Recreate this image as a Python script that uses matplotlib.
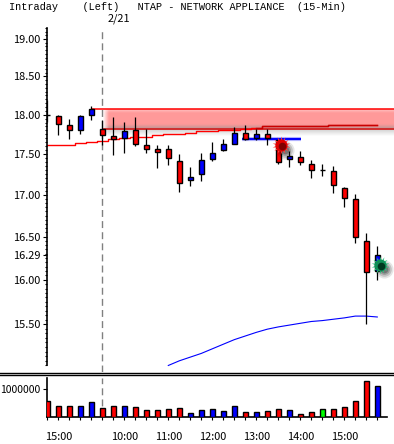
import numpy as np
import matplotlib
matplotlib.use('Agg')
import matplotlib.pyplot as plt
from matplotlib.transforms import offset_copy

W, H = 394, 444
plt.rcParams['font.family'] = ['Liberation Mono', 'DejaVu Sans Mono']
FS = 7.4
NUM_FONT = ['Noto Sans CJK JP', 'DejaVu Sans']
NUM_FS = 7.9

# candles, first one is the cut off bar on the axis
idx = list(range(-1, 30))
opens = [18.00, 17.99, 17.87, 17.81, 18.00, 17.82, 17.73, 17.70, 17.80, 17.62, 17.56, 17.57, 17.41, 17.18, 17.25, 17.44,
         17.55, 17.63, 17.77, 17.70, 17.75, 17.68, 17.44, 17.47, 17.38, 17.30, 17.29, 17.08, 16.95, 16.45, 16.10]
closes = [18.00, 17.88, 17.81, 17.99, 18.07, 17.74, 17.69, 17.79, 17.63, 17.57, 17.53, 17.45, 17.15, 17.22, 17.43, 17.52,
          17.63, 17.77, 17.69, 17.75, 17.70, 17.40, 17.48, 17.40, 17.30, 17.30, 17.12, 16.96, 16.50, 16.09, 16.29]
highs = [18.19, 18.00, 17.94, 18.00, 18.11, 17.93, 17.97, 17.91, 17.97, 17.82, 17.62, 17.61, 17.50, 17.34, 17.52, 17.65,
         17.69, 17.84, 17.87, 17.82, 17.82, 17.68, 17.54, 17.54, 17.43, 17.38, 17.35, 17.09, 17.01, 16.54, 16.39]
lows = [17.91, 17.74, 17.69, 17.76, 17.93, 17.61, 17.49, 17.52, 17.60, 17.52, 17.33, 17.36, 17.04, 17.11, 17.17, 17.42,
        17.54, 17.63, 17.68, 17.68, 17.61, 17.38, 17.34, 17.37, 17.20, 17.23, 17.02, 16.85, 16.43, 15.50, 16.00]
candle_colors = ['r', 'r', 'r', 'b', 'b', 'r', 'r', 'b', 'r', 'r', 'r', 'r', 'r', 'b', 'b', 'b',
                 'b', 'b', 'r', 'b', 'r', 'r', 'b', 'r', 'r', 'r', 'r', 'r', 'r', 'r', 'b']

volume = [0.57, 0.385, 0.385, 0.385, 0.525, 0.315, 0.385, 0.385, 0.35, 0.245, 0.245, 0.28, 0.315, 0.14, 0.245, 0.28,
          0.21, 0.385, 0.175, 0.175, 0.21, 0.28, 0.245, 0.105, 0.175, 0.28, 0.28, 0.35, 0.56, 1.26, 1.08]
volume = [v * 1000000 for v in volume]
vol_colors = list(candle_colors)
vol_colors[25] = 'g'

ma_red = [17.61, 17.61, 17.62, 17.64, 17.65, 17.67, 17.69, 17.70, 17.71, 17.72, 17.74, 17.75, 17.76, 17.77, 17.79, 17.79,
          17.80, 17.81, 17.82, 17.83, 17.85, 17.85, 17.85, 17.86, 17.86, 17.86, 17.87, 17.87, 17.87, 17.87, 17.87]
ma_blue_idx = list(range(10, 30))
ma_blue = [15.05, 15.10, 15.14, 15.18, 15.23, 15.28, 15.33, 15.37, 15.41, 15.445,
           15.47, 15.49, 15.51, 15.53, 15.54, 15.555, 15.57, 15.59, 15.59, 15.58]

price_ticks = [19.0, 18.5, 18.0, 17.5, 17.0, 16.5, 16.29, 16.0, 15.5]
time_idx = [0, 6, 10, 14, 18, 22, 26]
time_labels = ['15:00', '10:00', '11:00', '12:00', '13:00', '14:00', '15:00']

zone_top = 18.07
zone_bottom = 17.82
level_blue = 17.69
star_red = (20.25, 17.61)
star_green = (29.25, 16.17)

colmap = {'r': '#ff0000', 'b': '#0000ff', 'g': '#00ff00'}


def px_axes(left, top, right, bottom):
    return fig.add_axes([left / W, 1 - bottom / H, (right - left) / W, (bottom - top) / H])


def px_x(px):
    return (px - 58.3) / 11


fig = plt.figure(figsize=(W / 100, H / 100), dpi=100, facecolor='white')

# background layer, the soft shaded band
bg = px_axes(0, 0, W, H)
bg.set_xlim(0, W)
bg.set_ylim(H, 0)
bg.axis('off')
img = np.ones((36, 291, 3))
rows = np.arange(36) + 103.5
base = np.array([255, 153, 153]) / 255
for r, y in enumerate(rows):
    if y < 109:
        col = np.array([1, 1, 1])
    elif y < 113:
        col = base + (np.array([255, 195, 195]) / 255 - base) * (113 - y) / 4
    elif y < 124:
        col = base
    elif y < 128.5:
        col = base + (np.array([190, 150, 150]) / 255 - base) * (y - 124) / 4.5
    elif y < 136:
        col = np.array([.8, .8, .8]) + .2 * (y - 128.5) / 7.5
    else:
        col = np.array([1, 1, 1])
    img[r, :] = col
fade = np.clip((np.arange(291) + .5) / 6, 0, 1)[None, :, None]
img = 1 + (img - 1) * fade
bg.imshow(img, extent=(103, 394, 139, 103), aspect='auto', interpolation='bilinear')
bg.set_xlim(0, W)
bg.set_ylim(H, 0)

# main panel
ax = px_axes(47, 28, W, 372)
ax.patch.set_alpha(0)
ax.set_yscale('log')
ax.set_xlim(px_x(47), px_x(W))
ax.set_ylim(14.98, 19.15)

ax.axvline(4, color='#808080', lw=1, ls=(0, (5, 3)), zorder=1)
ax.hlines(zone_top, px_x(92), px_x(W), color='#ff0000', lw=1.1, zorder=2)
ax.hlines(zone_bottom, 4, px_x(W), color='#d00000', lw=1.1, zorder=2)

ax.plot(idx, ma_red, color='#ff0000', lw=1, drawstyle='steps-mid', zorder=2)
ax.plot(idx[19:], ma_red[19:], color='#c80000', lw=1, drawstyle='steps-mid', zorder=2)
ax.plot(ma_blue_idx, ma_blue, color='#0000ff', lw=0.8, zorder=2)

ax.hlines(level_blue, px_x(242), px_x(301), color='#8080ff', lw=3, alpha=.6, zorder=3)
ax.hlines(level_blue, px_x(242), px_x(301), color='#0000ff', lw=1.4, zorder=3)

ax.vlines(idx, lows, highs, color='black', lw=0.9, zorder=4)
bot = [min(o, c) for o, c in zip(opens, closes)]
hgt = [abs(o - c) for o, c in zip(opens, closes)]
ax.bar(idx, hgt, bottom=bot, width=0.43, color=[colmap[c] for c in candle_colors],
       edgecolor='black', linewidth=1.0, zorder=5)

# starbursts with their drop shadow
for (sx, sy), c1, c2, c3 in [(star_red, '#ff4040', '#e00000', '#800000'),
                             (star_green, '#30c080', '#109058', '#003820')]:
    shadow = offset_copy(ax.transData, fig=fig, x=3, y=-3, units='points')
    for s, a in [(170, .1), (110, .15), (60, .2), (30, .25)]:
        ax.scatter(sx, sy, s=s, color='black', alpha=a, lw=0, transform=shadow, zorder=6)
    ax.scatter(sx, sy, s=170, marker=(14, 1, 0), color=c1, lw=0, zorder=7)
    ax.scatter(sx, sy, s=75, color=c2, lw=0, zorder=8)
    ax.scatter(sx + .05, sy - .01, s=30, color=c3, lw=0, zorder=9)

ax.set_yticks(price_ticks)
ax.set_yticklabels(['%.2f' % p for p in price_ticks], fontsize=NUM_FS, family=NUM_FONT)
ax.set_yticks(np.arange(15.05, 19.16, 0.05), minor=True)
ax.yaxis.set_minor_formatter(matplotlib.ticker.NullFormatter())
ax.tick_params(axis='y', which='major', length=3.2, width=0.8, pad=1.5)
ax.tick_params(axis='y', which='minor', length=1.5, width=0.8)
ax.set_xticks([])
for s in ['top', 'right', 'bottom']:
    ax.spines[s].set_visible(False)
ax.spines['left'].set_linewidth(1.2)
ax.spines['left'].set_bounds(15.05, 19.15)

# volume panel
vax = px_axes(47, 378, W, 417.3)
vax.patch.set_alpha(0)
vax.set_xlim(px_x(47), px_x(W))
vax.set_ylim(0, 1374000)
vax.axvline(4, color='#808080', lw=1, ls=(0, (5, 3)), zorder=1)
vax.bar(idx, volume, width=0.43, color=[colmap[c] for c in vol_colors],
        edgecolor='black', linewidth=1.0, zorder=3)
vax.set_yticks([1000000])
vax.set_yticklabels(['1000000'], fontsize=NUM_FS - .4, family=NUM_FONT)
vax.tick_params(axis='y', length=3.2, width=0.8, pad=1.5)
vax.set_xticks(idx)
vax.set_xticklabels([])
vax.tick_params(axis='x', which='major', length=2.4, width=0.8)
vax.set_xticks(time_idx, minor=True)
vax.tick_params(axis='x', which='minor', length=5.2, width=0.8)
for i, t in zip(time_idx, time_labels):
    vax.annotate(t, (i, 0), xytext=(0, -19.5 * .72), textcoords='offset points', ha='center', va='center',
                 fontsize=NUM_FS, family=NUM_FONT)
for s in ['top', 'right']:
    vax.spines[s].set_visible(False)
vax.spines['left'].set_linewidth(1.2)
vax.spines['bottom'].set_linewidth(1.2)
vax.spines['bottom'].set_bounds(px_x(47), px_x(387))

# separator and header
fig.add_artist(plt.Line2D([0, 1], [1 - 372.7 / H] * 2, color='black', lw=1))
fig.add_artist(plt.Line2D([0, 1], [1 - 374.8 / H] * 2, color='black', lw=1))
fig.text(9 / W, 1 - 7 / H, 'Intraday    (Left)   NTAP - NETWORK APPLIANCE  (15-Min)', fontsize=FS, va='center', ha='left')
fig.text(108 / W, 1 - 19 / H, '2/21', fontsize=NUM_FS, va='center', ha='left', family=NUM_FONT)

plt.savefig('out.png', dpi=100)
